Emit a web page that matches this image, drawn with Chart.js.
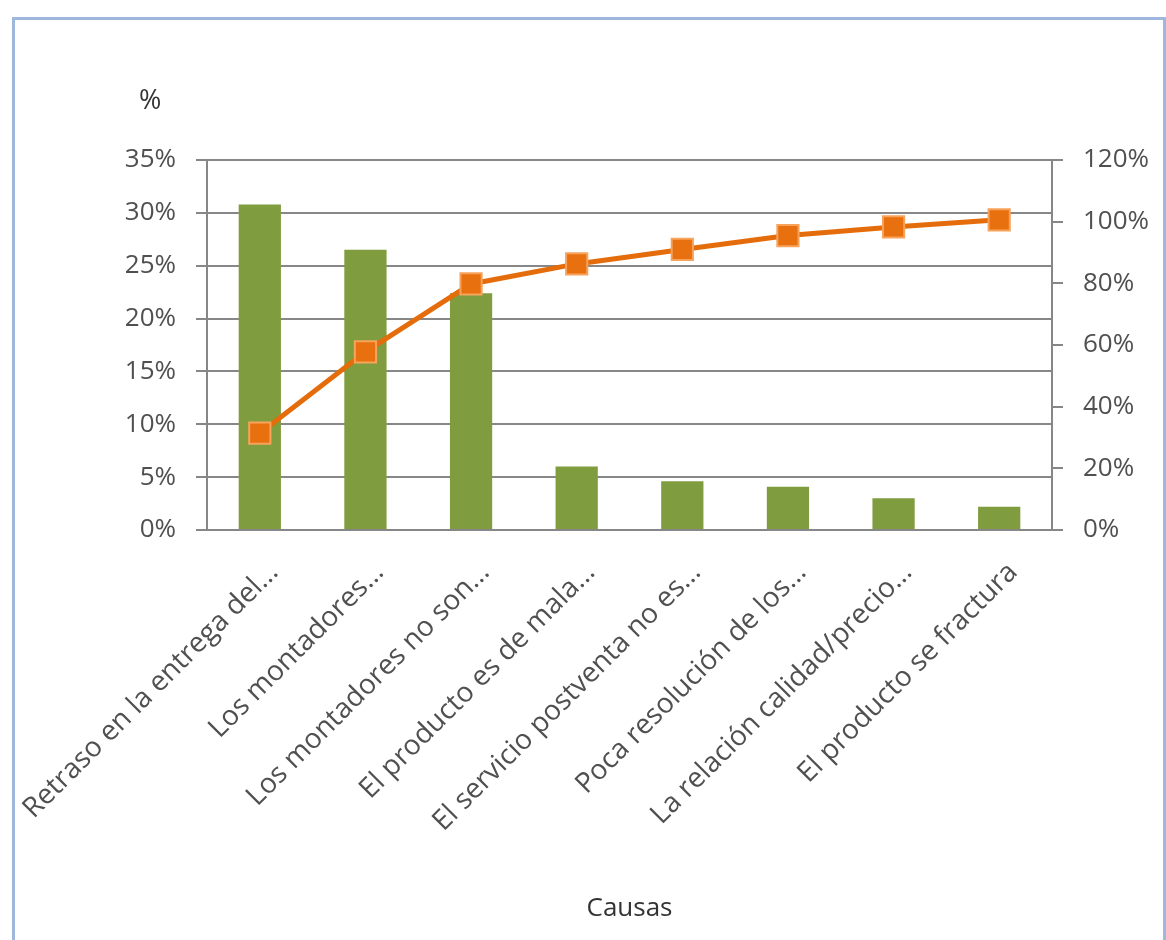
<!DOCTYPE html>
<html>
<head>
<meta charset="utf-8">
<script src="https://cdn.jsdelivr.net/npm/chart.js@4.4.1/dist/chart.umd.min.js"></script>
<style>
  html, body { margin: 0; padding: 0; background: #fff; }
  #frame {
    position: absolute; left: 12px; top: 17px; width: 1148px; height: 940px;
    border: 3px solid #9db8dc; border-bottom: none;
  }
  #wrap { position: absolute; left: 0; top: 0; width: 1166px; height: 940px; }
  #pct {
    position: absolute; left: 139px; top: 80px;
    font: 27px "Open Sans", sans-serif; color: #333333;
  }
</style>
</head>
<body>
<div id="frame"></div>
<div id="wrap"><canvas id="graph"></canvas></div>
<div id="pct">%</div>
<script>
var causas = [
  "Retraso en la entrega del...",
  "Los montadores...",
  "Los montadores no son...",
  "El producto es de mala...",
  "El servicio postventa no es...",
  "Poca resolución de los...",
  "La relación calidad/precio...",
  "El producto se fractura"
];
var porcentaje = [30.8, 26.5, 22.4, 6.0, 4.6, 4.1, 3.0, 2.2];
var acumulado = [31.4, 57.8, 79.8, 86.3, 91.0, 95.5, 98.3, 100.6];
var leftTicks = [0, 5, 10, 15, 20, 25, 30, 35];
var rightTicks = [0, 20, 40, 60, 80, 100, 120];

var gridColor = "#878787";
var textColor = "#505050";
var font = { family: "'Open Sans', sans-serif", size: 26 };

var ctx = document.getElementById("graph");
var graph = new Chart(ctx, {
  type: "bar",
  data: {
    labels: causas,
    datasets: [{
      type: "line",
      label: "Acumulado",
      data: acumulado,
      yAxisID: "y1",
      borderColor: "#e46c0a",
      borderWidth: 5,
      pointStyle: "rect",
      pointRadius: 15,
      pointBackgroundColor: "#e8700e",
      pointBorderColor: "#f7a35c",
      pointBorderWidth: 2,
      fill: false,
      order: 0
    }, {
      type: "bar",
      label: "%",
      data: porcentaje,
      yAxisID: "y",
      backgroundColor: "#7f9d3f",
      categoryPercentage: 1,
      barPercentage: 0.4,
      order: 1
    }]
  },
  options: {
    responsive: true,
    maintainAspectRatio: false,
    animation: false,
    layout: { padding: { top: 160, left: 0, right: 0, bottom: 0 } },
    plugins: { legend: { display: false }, tooltip: { enabled: false } },
    scales: {
      x: {
        grid: { display: false },
        border: { display: true, color: gridColor, width: 2 },
        ticks: {
          color: textColor, font: { family: font.family, size: 28 },
          minRotation: 45, maxRotation: 45, autoSkip: false,
          padding: 18, labelOffset: 14
        },
        title: {
          display: true, text: "Causas", color: "#333333", font: font,
          padding: { top: 0, bottom: 16 }
        },
        afterFit: function (s) {
          s.height = 410;
          s.paddingLeft = 0;
          s.paddingRight = 0;
        }
      },
      y: {
        position: "left",
        min: 0, max: 35,
        afterBuildTicks: function (s) { s.ticks = leftTicks.map(function (v) { return { value: v }; }); },
        ticks: {
          color: textColor, font: font, padding: 20,
          callback: function (v) { return v + "%"; }
        },
        grid: { color: gridColor, lineWidth: 2, tickLength: 11 },
        border: { display: true, color: gridColor, width: 2 },
        afterFit: function (s) { s.width = 207; }
      },
      y1: {
        position: "right",
        min: 0, max: 120,
        afterBuildTicks: function (s) { s.ticks = rightTicks.map(function (v) { return { value: v }; }); },
        ticks: {
          color: textColor, font: font, padding: 20,
          callback: function (v) { return v + "%"; }
        },
        grid: { drawOnChartArea: false, color: gridColor, lineWidth: 2, tickLength: 11 },
        border: { display: true, color: gridColor, width: 2 },
        afterFit: function (s) { s.width = 114; }
      }
    }
  }
});
</script>
</body>
</html>
